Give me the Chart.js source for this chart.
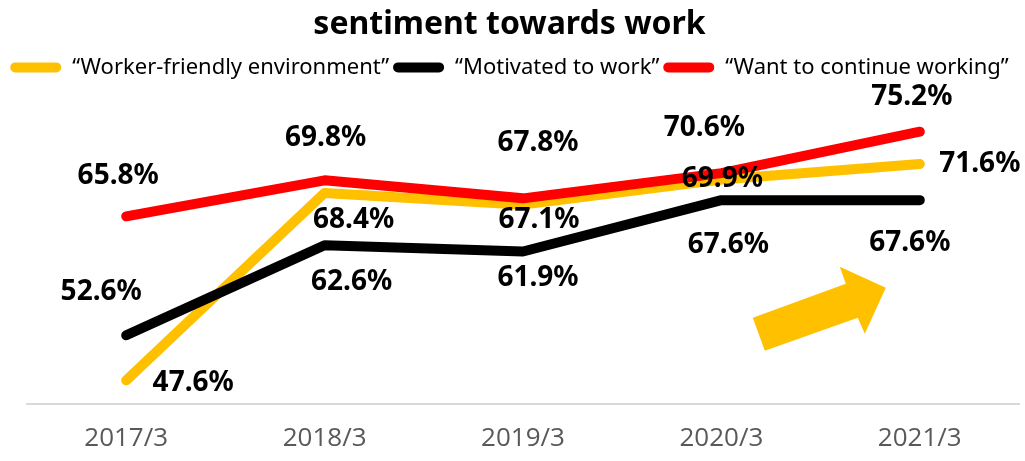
<!DOCTYPE html>
<html>
<head>
<meta charset="utf-8">
<script src="https://cdn.jsdelivr.net/npm/chart.js@4"></script>
<style>
	html, body { margin: 0; padding: 0; background: #fff; }
	#wrap { width: 1025px; height: 461px; }
</style>
</head>
<body>
<div id="wrap"><canvas id="myChart"></canvas></div>
<script>
var years = ["2017/3", "2018/3", "2019/3", "2020/3", "2021/3"];
var friendlyEnv = [47.6, 68.4, 67.1, 69.9, 71.6];
var motivated = [52.6, 62.6, 61.9, 67.6, 67.6];
var continueWork = [65.8, 69.8, 67.8, 70.6, 75.2];
var seriesNames = ["\u201cWorker-friendly environment\u201d", "\u201cMotivated to work\u201d", "\u201cWant to continue working\u201d"];

// where each value label sits, relative to its point (dx, dy)
var labelShift = [
	[[67, 3], [29, 27], [16, 15], [1, 0], [60, 0]],
	[[-25, -43], [27, 37], [15, 27], [7, 45], [-10, 43]],
	[[-8, -40], [1, -42], [15, -55], [-17, -45], [-8, -35]]
];

var valueLabels = {
	id: 'valueLabels',
	afterDatasetsDraw: function(chart) {
		var ctx = chart.ctx;
		ctx.save();
		ctx.font = 'bold 28px "Noto Sans"';
		ctx.fillStyle = '#000';
		ctx.textAlign = 'center';
		ctx.textBaseline = 'middle';
		chart.data.datasets.forEach(function(ds, i) {
			var meta = chart.getDatasetMeta(i);
			meta.data.forEach(function(pt, j) {
				var s = labelShift[i][j];
				ctx.fillText(ds.data[j].toFixed(1) + '%', pt.x + s[0], pt.y + s[1]);
			});
		});
		ctx.restore();
	}
};

// the big yellow arrow, anchored on the last category at the bottom of the plot
var upArrow = {
	id: 'upArrow',
	afterDatasetsDraw: function(chart) {
		var ctx = chart.ctx;
		var ax = chart.scales.x.getPixelForValue(years.length - 1);
		var ay = chart.chartArea.bottom;
		var shape = [[-167, -86], [-155, -53], [-62, -86], [-55, -70], [-34, -116], [-80, -137], [-74, -120]];
		ctx.save();
		ctx.fillStyle = '#FFC000';
		ctx.beginPath();
		shape.forEach(function(p, k) {
			if (k == 0) ctx.moveTo(ax + p[0], ay + p[1]);
			else ctx.lineTo(ax + p[0], ay + p[1]);
		});
		ctx.closePath();
		ctx.fill();
		ctx.restore();
	}
};

function lineSet(name, data, color, order) {
	return {
		label: name,
		data: data,
		borderColor: color,
		backgroundColor: color,
		borderWidth: 10,
		borderCapStyle: 'round',
		borderJoinStyle: 'round',
		pointRadius: 0,
		tension: 0,
		order: order
	};
}

var ctx = document.getElementById("myChart");
var myChart = new Chart(ctx, {
	type: 'line',
	data: {
		labels: years,
		datasets: [
			lineSet(seriesNames[0], friendlyEnv, '#FFC000', 2),
			lineSet(seriesNames[1], motivated, '#000000', 1),
			lineSet(seriesNames[2], continueWork, '#FF0000', 0)
		]
	},
	options: {
		responsive: true,
		maintainAspectRatio: false,
		animation: false,
		layout: { padding: { left: 0, right: 6, top: 0, bottom: -4 } },
		plugins: {
			tooltip: { enabled: false },
			title: {
				display: true,
				text: 'sentiment towards work',
				color: '#000',
				font: { family: '"Noto Sans"', size: 32, weight: 'bold', lineHeight: 1.2 },
				padding: { top: 6, bottom: 8 }
			},
			legend: {
				display: true,
				labels: {
					color: '#000',
					font: { family: '"Noto Sans"', size: 22 },
					boxWidth: 51,
					boxHeight: 10,
					useBorderRadius: true,
					borderRadius: 5,
					padding: 4,
					sort: function(a, b) { return a.datasetIndex - b.datasetIndex; },
					generateLabels: function(chart) {
						var items = Chart.defaults.plugins.legend.labels.generateLabels(chart);
						items.forEach(function(it) { it.lineWidth = 0; });
						return items;
					}
				}
			}
		},
		scales: {
			x: {
				offset: true,
				grid: { display: false },
				border: { display: true, color: '#D9D9D9', width: 2 },
				ticks: {
					color: '#595959',
					padding: 11,
					font: { family: '"Open Sans"', size: 26, lineHeight: 1.2 }
				}
			},
			y: {
				// kept invisible, only holds the left margin
				display: true,
				min: 45,
				max: 80,
				ticks: { display: false },
				grid: { display: false },
				border: { display: false },
				afterFit: function(scale) { scale.width = 27; }
			}
		}
	},
	plugins: [valueLabels, upArrow]
});
</script>
</body>
</html>
